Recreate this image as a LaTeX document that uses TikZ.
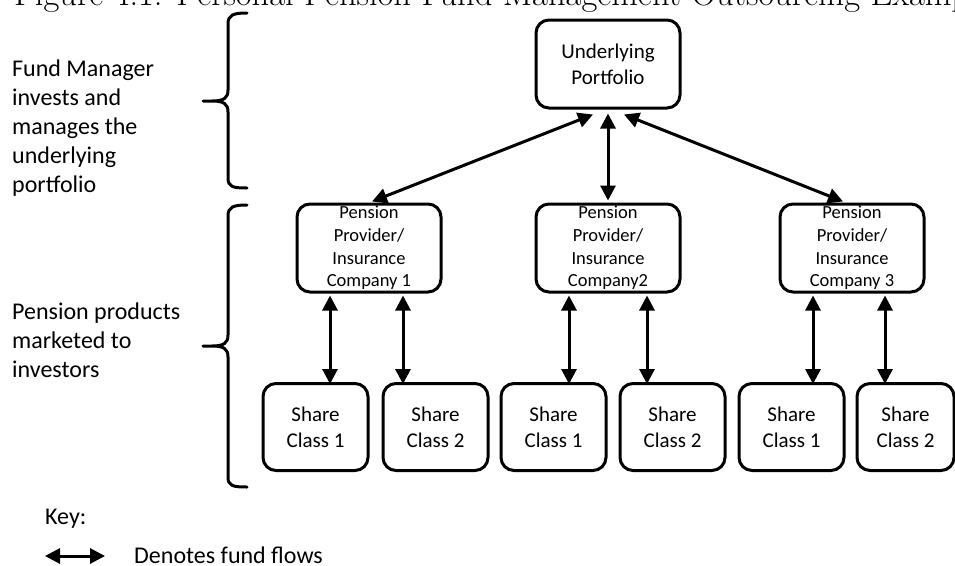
\documentclass[tikz,border=0pt]{standalone}
\usepackage{fontspec}
\newfontfamily\carl{Carlito}
\usetikzlibrary{arrows.meta}
\begin{document}
\begin{tikzpicture}[x=1pt,y=-1pt,
  box/.style={draw=black,line width=3pt,rounded corners=13pt,fill=white,inner sep=0pt,align=center},
  flow/.style={{Triangle[length=15pt,width=15pt]}-{Triangle[length=15pt,width=15pt]},line width=3pt},
  brace/.style={line width=3pt,line cap=round,line join=round},
  lbl/.style={inner sep=0pt,align=left,anchor=west,font=\carl\fontsize{24}{29}\selectfont}]
\useasboundingbox (0,0) rectangle (955,565);
\node[anchor=base west,inner sep=0pt,font=\fontsize{34.5}{40}\selectfont] (title) at (14,5) {Figure 4.1: Personal Pension Fund Management Outsourcing Example};
% boxes
\node[box,minimum width=144pt,minimum height=88pt,font=\carl\fontsize{21}{26}\selectfont] (port) at (608,64) {Underlying\\Portfolio};
\tikzset{pp/.style={box,minimum width=144pt,minimum height=88pt,font=\carl\fontsize{18.5}{22.6}\selectfont}}
\node[pp] (pp1) at (369,248) {Pension\\Provider/\\Insurance\\Company 1};
\node[pp] (pp2) at (608,248) {Pension\\Provider/\\Insurance\\Company2};
\node[pp] (pp3) at (852,248) {Pension\\Provider/\\Insurance\\Company 3};
\tikzset{sc/.style={box,minimum width=105pt,minimum height=87pt,font=\carl\fontsize{21}{26}\selectfont}}
\node[sc] (s1) at (315.5,427) {Share\\Class 1};
\node[sc] (s2) at (435.5,427) {Share\\Class 2};
\node[sc] (s3) at (553.5,427) {Share\\Class 1};
\node[sc] (s4) at (672.5,427) {Share\\Class 2};
\node[sc] (s5) at (791.5,427) {Share\\Class 1};
\node[sc,minimum width=97pt] (s6) at (905.5,427) {Share\\Class 2};
% arrows top
\draw[flow] ([xshift=-15pt,yshift=-5pt]port.south) -- ([xshift=3pt,yshift=1pt]pp1.north);
\draw[flow] ([yshift=-4pt]port.south) -- ([yshift=2pt]pp2.north);
\draw[flow] ([xshift=16pt,yshift=-5pt]port.south) -- ([xshift=-9pt,yshift=1pt]pp3.north);
% arrows bottom
\draw[flow] ([xshift=-39pt,yshift=-2pt]pp1.south) -- ([xshift=-39pt,yshift=-2pt]pp1.south |- s1.north);
\draw[flow] ([xshift=34pt,yshift=-2pt]pp1.south) -- ([xshift=34pt,yshift=-2pt]pp1.south |- s2.north);
\draw[flow] ([xshift=-39pt,yshift=-2pt]pp2.south) -- ([xshift=-39pt,yshift=-2pt]pp2.south |- s3.north);
\draw[flow] ([xshift=39pt,yshift=-2pt]pp2.south) -- ([xshift=39pt,yshift=-2pt]pp2.south |- s4.north);
\draw[flow] ([xshift=-39pt,yshift=-2pt]pp3.south) -- ([xshift=-39pt,yshift=-2pt]pp3.south |- s5.north);
\draw[flow] ([xshift=33pt,yshift=-2pt]pp3.south) -- ([xshift=33pt,yshift=-2pt]pp3.south |- s6.north);
% braces
\draw[brace] (247,13) .. controls (233,13) and (228,15) .. (228,24) -- (228,90)
  .. controls (228,98) and (224,101) .. (212,101) -- (203,101)
  (212,101) .. controls (224,101) and (228,104) .. (228,112) -- (228,178)
  .. controls (228,187) and (233,188) .. (247,188);
\draw[brace] (247,205) .. controls (233,205) and (228,207) .. (228,216) -- (228,335)
  .. controls (228,343) and (224,346) .. (212,346) -- (203,346)
  (212,346) .. controls (224,346) and (228,349) .. (228,357) -- (228,477)
  .. controls (228,486) and (233,487) .. (247,487);
% left labels
\node[lbl] (fm) at (12,128) {Fund Manager\\invests and\\manages the\\underlying\\portfolio};
\node[lbl] (pm) at (12,340) {Pension products\\marketed to\\investors};
% key
\node[lbl] (key) at (45,519) {Key:};
\coordinate (k1) at (45,556);
\coordinate (k2) at (105,556);
\draw[flow] (k1) -- (k2);
\node[lbl] (kt) at (134,555) {Denotes fund flows};
\end{tikzpicture}
\end{document}
